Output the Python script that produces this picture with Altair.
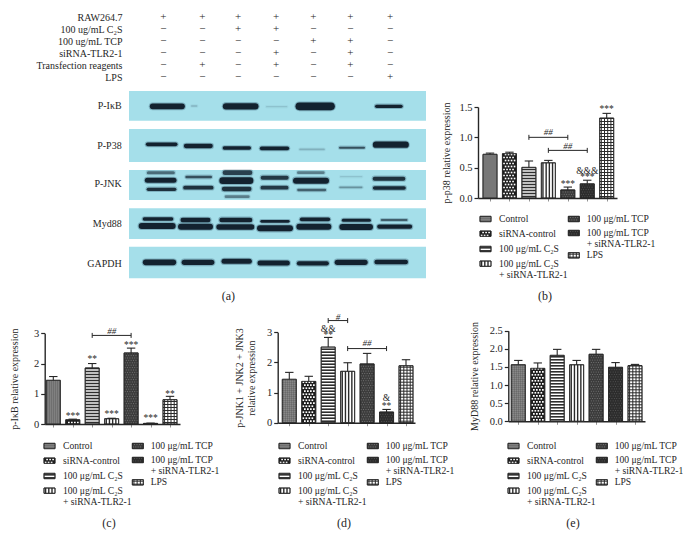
import altair as alt
import pandas as pd

W, H = 675, 532
SERIF = "Liberation Serif"
INK = "#262626"
PLUS, MINUS = "+", "\u2212"

# ---------- panel (a): treatment table ----------
treatments = ["RAW264.7", "100 ug/mL C\u2082S", "100 ug/mL TCP", "siRNA-TLR2-1", "Transfection reagents", "LPS"]
lane_x = [490, 607, 714, 828, 940, 1051, 1170]
table_signs = [
    "+++++++",
    "--++---",
    "----++-",
    "---+-+-",
    "-+-+-+-",
    "------+",
]

# ---------- panel (a): gel (gel units = 1/3 px) ----------
proteins = ["P-I\u03baB", "P-P38", "P-JNK", "Myd88", "GAPDH"]
row_top = [273, 387, 510, 625, 740]
row_bottom = [362, 486, 600, 717, 835]
label_y = [319, 437, 553, 673, 791]
# x0, x1, y, thickness, darkness
bands = [
    (458, 546, 319, 17, 1), (678, 766, 319, 19, 1), (898, 993, 319, 23, 1), (1130, 1203, 319, 10, 1),
    (575, 590, 318, 4, .18), (800, 860, 320, 4, .12),
    (443, 527, 433, 11, 1), (558, 632, 438, 13, 1), (673, 748, 444, 10, 1), (785, 862, 445, 11, 1),
    (900, 972, 448, 5, .2), (1020, 1092, 443, 6, .7), (1128, 1217, 434, 19, 1),
    (445, 520, 518, 9, .55), (675, 750, 518, 14, .8), (895, 970, 518, 8, .45),
    (442, 522, 541, 15, 1), (560, 632, 531, 8, .7), (668, 750, 542, 20, 1), (788, 860, 533, 12, .85),
    (888, 978, 542, 18, 1), (1022, 1085, 530, 4, .12), (1124, 1210, 536, 12, .9),
    (445, 524, 568, 10, .9), (555, 635, 563, 11, .9), (672, 748, 567, 13, .9), (787, 860, 563, 11, .85),
    (895, 975, 570, 7, .6), (1020, 1085, 562, 5, .35), (1124, 1212, 564, 11, .95), (678, 745, 590, 8, .45),
    (433, 515, 657, 10, 1), (548, 625, 660, 13, 1), (665, 750, 660, 14, 1), (785, 865, 664, 8, 1),
    (905, 985, 658, 11, 1), (1030, 1108, 661, 9, 1), (1145, 1220, 660, 5, .8),
    (425, 518, 678, 18, 1), (543, 630, 680, 18, 1), (657, 755, 681, 16, 1), (780, 870, 685, 18, 1),
    (898, 985, 680, 18, 1), (1027, 1110, 681, 18, 1), (1138, 1230, 680, 13, 1),
    (437, 520, 787, 17, 1), (553, 635, 787, 16, 1), (672, 748, 784, 15, 1), (780, 862, 789, 15, 1),
    (897, 980, 790, 13, 1), (1012, 1095, 787, 16, 1), (1130, 1217, 786, 14, 1),
]

# ---------- bar panels ----------
values_b = [0.72, 0.73, 0.505, 0.58, 0.133, 0.233, 1.317]
tops_b = [0.74, 0.755, 0.61, 0.62, 0.18, 0.293, 1.395]
values_c = [1.445, 0.14, 1.85, 0.175, 2.35, 0.02, 0.805]
tops_c = [1.57, 0.16, 2.0, 0.19, 2.51, 0.03, 0.915]
values_d = [1.44, 1.37, 2.51, 1.705, 1.95, 0.355, 1.89]
tops_d = [1.67, 1.54, 2.83, 1.99, 2.30, 0.44, 2.09]
values_e = [1.56, 1.46, 1.82, 1.56, 1.85, 1.49, 1.535]
tops_e = [1.68, 1.61, 1.985, 1.68, 1.985, 1.62, 1.57]

stars_b = [(5, .255, "***"), (6, .365, "***"), (6, .476, "&&&"), (7, 1.494, "***")]
hash_b = [(4, 1.08, "##"), (5, .858, "##")]
brackets_b = [(3, 5, 1.0), (4, 6, .785)]
stars_c = [(2, .31, "***"), (3, 2.19, "**"), (4, .375, "***"), (5, 2.67, "***"), (6, .243, "***"), (7, 1.036, "**")]
hash_c = [(4, 3.08, "##")]
brackets_c = [(3, 5, 2.93)]
stars_d = [(3, 2.97, "**"), (3, 3.17, "&&"), (6, .61, "**"), (6, .886, "&")]
hash_d = [(3.5, 3.5, "#"), (5, 2.66, "##")]
brackets_d = [(3, 4, 3.39), (4, 6, 2.46)]

patterns = ["weave", "checker", "hstripe", "vstripe", "tcp", "tcpsi", "grid"]
fills = {"weave": "#7a7a7a", "checker": "#1c1c1c", "hstripe": "#ffffff", "vstripe": "#ffffff",
         "tcp": "#3c3c3c", "tcpsi": "#2c2c2c", "grid": "#ffffff"}

legend_left = [(0, "Control", 0), (44, "siRNA-control", 1), (90, "100 \u03bcg/mL C\u2082S", 2),
               (134, "100 \u03bcg/mL C\u2082S", 3), (169, "+ siRNA-TLR2-1", None)]
legend_right = [(0, "100 \u03bcg/mL TCP", 4), (42, "100 \u03bcg/mL TCP", 5),
                (75, "+ siRNA-TLR2-1", None), (109, "LPS", 6)]


def frange(a, b, step):
    out = []
    v = a
    while v < b - 1e-9:
        out.append(v)
        v += step
    return out


def texture(kind, x0, x1, y0, y1, ux, uy):
    """Hatching of one rectangle; ux and uy are data units per pixel."""
    segs = []

    def hlines(period, colour, width):
        for y in frange(y0 + period * uy / 2, y1, period * uy):
            segs.append(dict(x=x0, x2=x1, y=y, y2=y, c=colour, w=width))

    def vlines(period, colour, width):
        for x in frange(x0 + period * ux / 2, x1, period * ux):
            segs.append(dict(x=x, x2=x, y=y0, y2=y1, c=colour, w=width))

    def dots(period, colour, size):
        for i, y in enumerate(frange(y0 + period * uy / 2, y1, period * uy)):
            start = x0 + (0.25 if i % 2 else 0.75) * period * ux
            for x in frange(start, x1 - size * ux, period * ux):
                segs.append(dict(x=x, x2=x + size * ux, y=y, y2=y, c=colour, w=size))

    if kind == "weave":
        hlines(2, "#a8a8a8", .6)
        vlines(2, "#4c4c4c", .5)
    elif kind == "checker":
        dots(3.0, "#ffffff", 1.7)
    elif kind == "hstripe":
        hlines(3, "#2e2e2e", 1.6)
    elif kind == "vstripe":
        vlines(3.2, "#2a2a2a", 1.4)
    elif kind == "tcp":
        dots(2.4, "#7c7c7c", .9)
    elif kind == "tcpsi":
        dots(2.4, "#666666", .8)
    elif kind == "grid":
        hlines(3, "#2a2a2a", 1)
        vlines(3.2, "#2a2a2a", 1)
    return segs


def table_layer():
    rows = []
    for treat, signs in zip(treatments, table_signs):
        for x, s in zip(lane_x, signs):
            rows.append(dict(treatment=treat, x=x, sign=PLUS if s == "+" else MINUS))
    xs = alt.Scale(domain=[387, 1278], range=[121, 418])
    ys = alt.Scale(type="point", domain=treatments, range=[3.5, 75])
    return alt.Chart(pd.DataFrame(rows)).mark_text(font=SERIF, fontSize=11, color=INK, opacity=.99).encode(
        x=alt.X("x:Q", scale=xs, axis=None),
        y=alt.Y("treatment:N", scale=ys, title=None,
                axis=alt.Axis(orient="left", offset=-121, ticks=False, domain=False, labelPadding=7,
                              labelFont=SERIF, labelFontSize=10, labelColor=INK, grid=False)),
        text="sign:N",
    )


def gel_layer():
    xs = alt.Scale(domain=[387, 1278], range=[121, 418])
    ys = alt.Scale(domain=[273, 887], range=[83, 287.7])
    X = alt.X("x:Q", scale=xs, axis=None)
    Y = alt.Y("y:Q", scale=ys, axis=None)
    rows = pd.DataFrame(dict(x=[387] * 5, x2=[1278] * 5, y=row_top, y2=row_bottom))
    blue = alt.Chart(rows).mark_rect(color="#a5dfea").encode(X, x2="x2:Q", y=Y, y2="y2:Q")
    b = pd.DataFrame(bands, columns=["x", "x2", "y", "thick", "dark"])
    b["w"] = b["thick"] / 3
    b["halo"] = b["thick"] / 3 + 2.2
    b["halo_op"] = b["dark"] * .3
    halo = alt.Chart(b).mark_rule(strokeCap="round", color="#1f3f55").encode(
        X, x2="x2:Q", y=Y, size=alt.Size("halo:Q", scale=None),
        opacity=alt.Opacity("halo_op:Q", scale=None))
    core = alt.Chart(b).mark_rule(strokeCap="round", color="#13222f").encode(
        X, x2="x2:Q", y=Y, size=alt.Size("w:Q", scale=None),
        opacity=alt.Opacity("dark:Q", scale=None))
    lab = pd.DataFrame(dict(x=[365] * 5, y=label_y, t=proteins))
    labels = alt.Chart(lab).mark_text(font=SERIF, fontSize=10, align="right", color=INK).encode(X, Y, text="t:N")
    cap = pd.DataFrame(dict(x=[685], y=[887], t=["(a)"]))
    caption = alt.Chart(cap).mark_text(font=SERIF, fontSize=12, color=INK).encode(X, Y, text="t:N")
    return alt.layer(blue, halo, core, labels, caption)


def bar_panel(values, tops, x0, x1, first, ybot, ytop, ymax, ticks, fmt, title, tpad,
              stars=(), hashes=(), brackets=()):
    s = 19.45
    dom = [1 - (first - x0) / s, 1 + (x1 - first) / s]
    xs = alt.Scale(domain=dom, range=[x0 - 8, x1 - 8], nice=False, zero=False)
    ys = alt.Scale(domain=[0, ymax], range=[ybot - 8, ytop - 8], nice=False)
    X = alt.X("x:Q", scale=xs, axis=None)
    Y = alt.Y("y:Q", scale=ys, axis=None)
    ux, uy = 1 / s, ymax / (ybot - ytop)
    hw = 7 / s
    rects, segs, errs, caps = [], [], [], []
    for i, (v, t, p) in enumerate(zip(values, tops, patterns)):
        lane = i + 1
        rects.append(dict(x=lane - hw, x2=lane + hw, y=0, y2=v, fill=fills[p]))
        segs += texture(p, lane - hw, lane + hw, 0, v, ux, uy)
        errs.append(dict(x=lane, y=v, y2=t))
        caps.append(dict(x=lane - hw * .6, x2=lane + hw * .6, y=t))

    axes_data = pd.DataFrame(dict(x=[dom[0]], y=[0]))
    axes = alt.Chart(axes_data).mark_point(opacity=0).encode(
        x=alt.X("x:Q", scale=xs, title=None,
                axis=alt.Axis(orient="bottom", offset=-(H - (ybot - 8)), values=[1, 2, 3, 4, 5, 6, 7],
                              labels=False, tickSize=3, tickColor="#777", tickWidth=.8, domainColor=INK,
                              domainWidth=1.4, grid=False)),
        y=alt.Y("y:Q", scale=ys, title=title,
                axis=alt.Axis(orient="left", offset=-(x0 - 8), values=ticks, format=fmt, tickSize=4,
                              tickWidth=1.2, tickColor=INK, domainColor=INK, domainWidth=1.4, grid=False,
                              labelFont=SERIF, labelFontSize=10.5, labelColor=INK, labelPadding=2,
                              titleFont=SERIF, titleFontSize=10, titleFontWeight="normal", titleColor=INK,
                              titlePadding=tpad)),
    )
    base = alt.Chart(pd.DataFrame(rects)).mark_rect(stroke=INK, strokeWidth=.8).encode(
        X, x2="x2:Q", y=Y, y2="y2:Q", color=alt.Color("fill:N", scale=None))
    hatch = alt.Chart(pd.DataFrame(segs)).mark_rule().encode(
        X, x2="x2:Q", y=Y, y2="y2:Q", color=alt.Color("c:N", scale=None), size=alt.Size("w:Q", scale=None))
    outline = alt.Chart(pd.DataFrame(rects)).mark_rect(fillOpacity=0, stroke=INK, strokeWidth=.8).encode(
        X, x2="x2:Q", y=Y, y2="y2:Q")
    err = alt.Chart(pd.DataFrame(errs)).mark_rule(color=INK, strokeWidth=1.1).encode(X, y=Y, y2="y2:Q")
    cap = alt.Chart(pd.DataFrame(caps)).mark_rule(color=INK, strokeWidth=1.1).encode(X, x2="x2:Q", y=Y)
    layers = [base, hatch, outline, err, cap]

    if stars:
        df = pd.DataFrame(list(stars), columns=["x", "y", "t"])
        layers.append(alt.Chart(df).mark_text(font=SERIF, fontSize=9.5, color=INK, dy=1.5, opacity=.99).encode(X, Y, text="t:N"))
    if hashes:
        df = pd.DataFrame(list(hashes), columns=["x", "y", "t"])
        layers.append(alt.Chart(df).mark_text(font=SERIF, fontSize=9, fontStyle="italic", color=INK, opacity=.99).encode(X, Y, text="t:N"))
    if brackets:
        h = [dict(x=a, x2=b, y=y) for a, b, y in brackets]
        v = []
        for a, b, y in brackets:
            v += [dict(x=a, y=y - 2.5 * uy, y2=y + 2.5 * uy), dict(x=b, y=y - 2.5 * uy, y2=y + 2.5 * uy)]
        layers.append(alt.Chart(pd.DataFrame(h)).mark_rule(color=INK, strokeWidth=1).encode(X, x2="x2:Q", y=Y))
        layers.append(alt.Chart(pd.DataFrame(v)).mark_rule(color=INK, strokeWidth=1).encode(X, y=Y, y2="y2:Q"))
    return [alt.layer(*layers), axes]


def legend_panel(ox, oy, caption):
    xs = alt.Scale(domain=[0, 300], range=[ox - 8, ox - 8 + 100], nice=False, zero=False)
    ys = alt.Scale(domain=[0, 300], range=[oy - 8, oy - 8 + 100], nice=False, zero=False)
    X = alt.X("x:Q", scale=xs, axis=None)
    Y = alt.Y("y:Q", scale=ys, axis=None)
    rects, segs, text = [], [], []
    for col_x, text_x, entries in ((0, 57, legend_left), (265, 320, legend_right)):
        for slot, label, idx in entries:
            text.append(dict(x=text_x, y=slot, t=label))
            if idx is not None:
                p = patterns[idx]
                rects.append(dict(x=col_x, x2=col_x + 33, y=slot - 8, y2=slot + 8, fill=fills[p]))
                segs += texture(p, col_x, col_x + 33, slot - 8, slot + 8, 3, 3)
    base = alt.Chart(pd.DataFrame(rects)).mark_rect(stroke=INK, strokeWidth=.8).encode(
        X, x2="x2:Q", y=Y, y2="y2:Q", color=alt.Color("fill:N", scale=None))
    hatch = alt.Chart(pd.DataFrame(segs)).mark_rule().encode(
        X, x2="x2:Q", y=Y, y2="y2:Q", color=alt.Color("c:N", scale=None), size=alt.Size("w:Q", scale=None))
    outline = alt.Chart(pd.DataFrame(rects)).mark_rect(fillOpacity=0, stroke=INK, strokeWidth=.8).encode(
        X, x2="x2:Q", y=Y, y2="y2:Q")
    labels = alt.Chart(pd.DataFrame(text)).mark_text(font=SERIF, fontSize=9.6, align="left", color=INK).encode(X, Y, text="t:N")
    cap = alt.Chart(pd.DataFrame(dict(x=[195], y=[230], t=[caption]))).mark_text(
        font=SERIF, fontSize=12, color=INK).encode(X, Y, text="t:N")
    return alt.layer(base, hatch, outline, labels, cap)


chart = alt.layer(
    table_layer(),
    gel_layer(),
    *bar_panel(values_b, tops_b, 478, 617, 490, 198, 107, 1.5, [0, .5, 1, 1.5], ".1f",
               "p-p38 relative expression", 7, stars_b, hash_b, brackets_b),
    legend_panel(480, 219, "(b)"),
    *bar_panel(values_c, tops_c, 44.7, 180, 53.3, 424, 333.3, 3, [0, 1, 2, 3], "d",
               "p-I\u03baB relative expression", 14, stars_c, hash_c, brackets_c),
    legend_panel(44, 446, "(c)"),
    *bar_panel(values_d, tops_d, 277.7, 415, 289.3, 422.7, 332.3, 3, [0, 1, 2, 3], "d",
               ["p-JNK1 + JNK2 + JNK3", "relative expression"], 10, stars_d, hash_d, brackets_d),
    legend_panel(279, 446, "(d)"),
    *bar_panel(values_e, tops_e, 508.3, 645, 518.3, 421.3, 330.7, 2.5, [0, .5, 1, 1.5, 2, 2.5], ".1f",
               "MyD88 relative expression", 10),
    legend_panel(508, 446, "(e)"),
).resolve_scale(x="independent", y="independent").properties(
    width=W, height=H, padding=0, autosize=alt.AutoSizeParams(type="none"),
).configure_view(stroke=None)

chart.save("out.html", embed_options={"renderer": "svg", "actions": False})
